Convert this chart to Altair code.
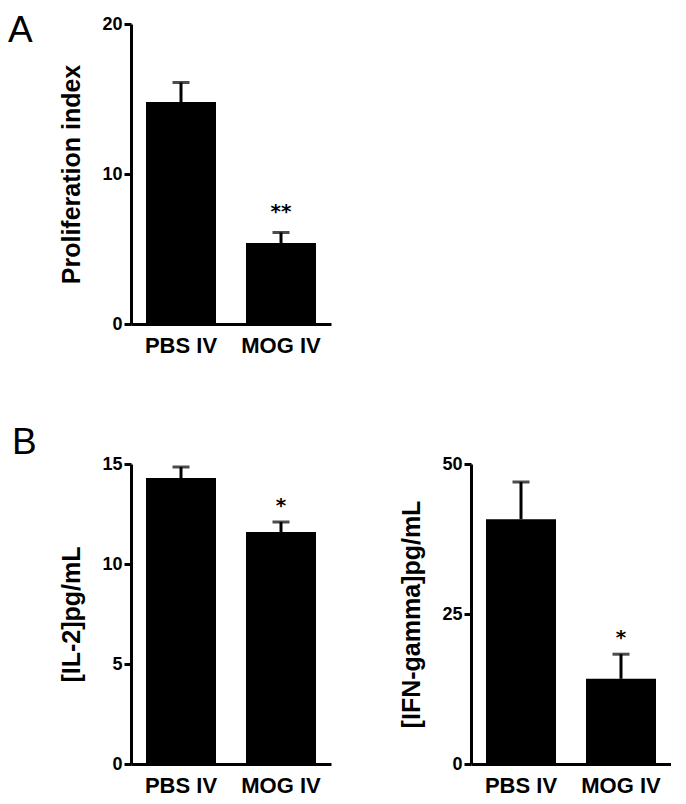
import altair as alt
import pandas as pd

groups = ["PBS IV", "MOG IV"]

prolif_mean = [14.8, 5.4]
prolif_sem = [1.3, 0.7]
prolif_sig = ["", "**"]

il2_mean = [14.3, 11.6]
il2_sem = [0.55, 0.5]
il2_sig = ["", "*"]

ifn_mean = [40.8, 14.2]
ifn_sem = [6.2, 4.1]
ifn_sig = ["", "*"]

FONT = "Liberation Sans"


def panel(means, sems, sig, ymax, ticks, title, letter=None, letter_x=0, letter_y=0, star_dy=-12):
    df = pd.DataFrame({
        "group": groups,
        "mean": means,
        "upper": [m + s for m, s in zip(means, sems)],
        "sig": sig,
    })
    x = alt.X("group:N", sort=groups,
              scale=alt.Scale(paddingInner=0.3, paddingOuter=0.15),
              axis=alt.Axis(title=None, labelAngle=0, ticks=False, tickSize=0,
                            labelPadding=11, labelFontSize=22))
    yscale = alt.Scale(domain=[0, ymax], nice=False)
    y = alt.Y("mean:Q", scale=yscale,
              axis=alt.Axis(values=ticks, title=title, titlePadding=17))
    base = alt.Chart(df)
    bars = base.mark_bar(color="black").encode(x=x, y=y)
    rule = base.mark_rule(color="black", strokeWidth=3).encode(
        x=alt.X("group:N", sort=groups), y="mean:Q", y2="upper:Q")
    cap = base.mark_tick(color="black", size=17, thickness=3).encode(
        x=alt.X("group:N", sort=groups), y="upper:Q")
    star = base.mark_text(font="DejaVu Sans", fontWeight="bold", fontSize=20,
                          baseline="alphabetic", dy=star_dy, color="black").encode(
        x=alt.X("group:N", sort=groups), y="upper:Q", text="sig:N")
    layers = [bars, rule, cap, star]
    if letter:
        lt = alt.Chart(pd.DataFrame({"t": [letter]})).mark_text(
            font=FONT, fontSize=37, align="left", baseline="alphabetic",
            color="black").encode(text="t:N", x=alt.value(letter_x), y=alt.value(letter_y))
        layers.append(lt)
    return alt.layer(*layers).properties(width=200, height=300)


pA = panel(prolif_mean, prolif_sem, prolif_sig, 20, [0, 10, 20],
           "Proliferation index", "A", -123, 18, star_dy=-15)
pB1 = panel(il2_mean, il2_sem, il2_sig, 15, [0, 5, 10, 15],
            "[IL-2]pg/mL", "B", -119, -10, star_dy=-10)
pB2 = panel(ifn_mean, ifn_sem, ifn_sig, 50, [0, 25, 50],
            "[IFN-gamma]pg/mL", star_dy=-10)

chart = alt.vconcat(
    pA,
    alt.hconcat(pB1, pB2, spacing=68),
    spacing=68,
).properties(
    padding={"left": 0, "top": 4, "right": 0, "bottom": 0},
    background="white",
).configure_view(stroke=None).configure_axis(
    domainColor="black", domainWidth=3, tickColor="black", tickWidth=3, tickSize=7,
    labelFont=FONT, labelFontWeight="bold", labelFontSize=18, labelColor="black",
    labelPadding=2,
    titleFont=FONT, titleFontWeight="bold", titleFontSize=25, titleColor="black",
    grid=False,
)

chart.save("out.html", embed_options={"renderer": "svg", "actions": False})
